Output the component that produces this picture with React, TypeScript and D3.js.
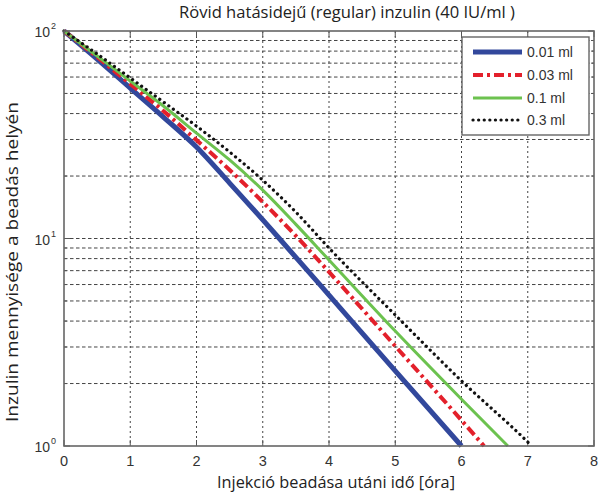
import React from 'react';
import * as d3 from 'd3';

const title = 'Rövid hatásidejű (regular) inzulin (40 IU/ml )';
const xLabel = 'Injekció beadása utáni idő [óra]';
const yLabel = 'Inzulin mennyisége a beadás helyén';
const xTicks = [0, 1, 2, 3, 4, 5, 6, 7, 8];
const yDecades = [0, 1, 2];
const seriesNames = ['0.01 ml', '0.03 ml', '0.1 ml', '0.3 ml'];

const tBlue = [0, 0.5, 1, 1.5, 2, 2.5, 3.25, 4, 5, 6];
const vBlue = [100, 73.3, 53.1, 38.5, 27.6, 18.5, 10, 5.34, 2.3, 1.0];
const tRed = [0, 0.5, 1, 1.5, 2, 2.5, 3, 3.5, 4, 5, 6, 6.34];
const vRed = [100, 74.9, 55.5, 41.2, 29.8, 21.4, 15.0, 10.3, 6.9, 3.03, 1.33, 1.0];
const tGreen = [0, 0.5, 1, 1.5, 2, 2.5, 3, 3.5, 4, 5, 6, 6.7];
const vGreen = [100, 75.8, 57.4, 43.5, 32.2, 23.9, 17.1, 11.7, 7.88, 3.58, 1.68, 1.0];
const tBlack = [0, 0.5, 1, 1.5, 2, 2.5, 3, 3.5, 4, 5, 6, 7, 7.06];
const vBlack = [100, 77.5, 59.4, 45.5, 34.8, 26.1, 19.1, 13.4, 9.0, 4.28, 2.06, 1.045, 1.0];

const W = 611, H = 493;
const L = 64, R = 594, T = 31, B = 446;

export default function App() {
  const x = d3.scaleLinear().domain([0, 8]).range([L, R]);
  const y = d3.scaleLog().domain([1, 100]).range([B, T]);

  const series = [
    { t: tBlue, v: vBlue, color: '#32489c', width: 5, dash: undefined as string | undefined, cap: 'butt' },
    { t: tRed, v: vRed, color: '#e3202b', width: 4, dash: '10,4,3,4', cap: 'butt' },
    { t: tGreen, v: vGreen, color: '#6cc24f', width: 3, dash: undefined, cap: 'butt' },
    { t: tBlack, v: vBlack, color: '#111', width: 3.2, dash: '0.1,5.5', cap: 'round' },
  ];

  const line = d3
    .line<[number, number]>()
    .x((d) => x(d[0]))
    .y((d) => y(d[1]))
    .curve(d3.curveMonotoneX);

  const minor: number[] = [];
  for (const d of [0, 1]) {
    for (let k = 2; k <= 9; k++) minor.push(k * Math.pow(10, d));
  }

  const legendX = 462, legendY = 37, legendW = 127, legendH = 98;
  const rowY = [52, 75, 98, 120];

  return (
    <svg width={W} height={H} style={{ position: 'absolute', left: 0, top: 0, background: '#fff' }}>
      <rect x={0} y={0} width={W} height={H} fill="#fff" />
      <text x={347} y={18} textAnchor="middle" fontFamily="Open Sans, sans-serif" fontSize={15.5} fill="#222"
        textLength={336} lengthAdjust="spacingAndGlyphs">{title}</text>
      {/* grid */}
      <g stroke="#444" strokeWidth={1}>
        {xTicks.slice(1, -1).map((t) => (
          <line key={'vx' + t} x1={x(t)} x2={x(t)} y1={T} y2={B} strokeDasharray="2,3" />
        ))}
        {minor.concat([10]).map((v) => (
          <line key={'hy' + v} x1={L} x2={R} y1={y(v)} y2={y(v)} strokeDasharray="3.5,2.5" />
        ))}
      </g>
      {/* ticks */}
      <g stroke="#555" strokeWidth={1}>
        {xTicks.map((t) => (
          <g key={'xt' + t}>
            <line x1={x(t)} x2={x(t)} y1={B} y2={B - 6} />
            <line x1={x(t)} x2={x(t)} y1={T} y2={T + 6} />
          </g>
        ))}
        {yDecades.map((d) => (
          <g key={'yt' + d}>
            <line x1={L} x2={L + 6} y1={y(Math.pow(10, d))} y2={y(Math.pow(10, d))} />
            <line x1={R} x2={R - 6} y1={y(Math.pow(10, d))} y2={y(Math.pow(10, d))} />
          </g>
        ))}
        {minor.map((v) => (
          <g key={'ym' + v}>
            <line x1={L} x2={L + 3} y1={y(v)} y2={y(v)} />
            <line x1={R} x2={R - 3} y1={y(v)} y2={y(v)} />
          </g>
        ))}
      </g>
      {/* series */}
      {series.map((s, i) => (
        <path
          key={'s' + i}
          d={line(s.t.map((t, j) => [t, s.v[j]] as [number, number])) || ''}
          fill="none"
          stroke={s.color}
          strokeWidth={s.width}
          strokeDasharray={s.dash}
          strokeLinecap={s.cap as any}
          strokeLinejoin="round"
        />
      ))}
      {/* frame */}
      <rect x={L} y={T} width={R - L} height={B - T} fill="none" stroke="#666" strokeWidth={1.6} />
      {/* x tick labels */}
      {xTicks.map((t) => (
        <text key={'xl' + t} x={x(t)} y={466} textAnchor="middle" fontFamily="Liberation Sans, Arial, sans-serif"
          fontSize={14.5} fill="#333">{t}</text>
      ))}
      {/* y tick labels */}
      {yDecades.map((d) => (
        <g key={'yl' + d}>
          <text x={50} y={y(Math.pow(10, d)) + 6} textAnchor="end" fontFamily="Liberation Sans, Arial, sans-serif"
            fontSize={14} fill="#333">10</text>
          <text x={51} y={y(Math.pow(10, d)) - 2} fontFamily="Liberation Sans, Arial, sans-serif" fontSize={9}
            fill="#333">{d}</text>
        </g>
      ))}
      {/* axis labels */}
      <text x={336} y={488} textAnchor="middle" fontFamily="Open Sans, sans-serif" fontSize={15.5} fill="#222"
        textLength={238} lengthAdjust="spacingAndGlyphs">{xLabel}</text>
      <text transform={`translate(18,262) rotate(-90)`} textAnchor="middle" fontFamily="Open Sans, sans-serif"
        fontSize={15.5} fill="#222" textLength={320} lengthAdjust="spacingAndGlyphs">{yLabel}</text>
      {/* legend */}
      <rect x={legendX} y={legendY} width={legendW} height={legendH} fill="#fff" stroke="#666" strokeWidth={1.4} />
      {series.map((s, i) => (
        <g key={'lg' + i}>
          <line x1={473} x2={522} y1={rowY[i]} y2={rowY[i]} stroke={s.color} strokeWidth={s.width}
            strokeDasharray={s.dash} strokeLinecap={s.cap as any} />
          <text x={527} y={rowY[i] + 5} fontFamily="Liberation Sans, Arial, sans-serif" fontSize={14} fill="#333">
            {seriesNames[i]}
          </text>
        </g>
      ))}
    </svg>
  );
}
